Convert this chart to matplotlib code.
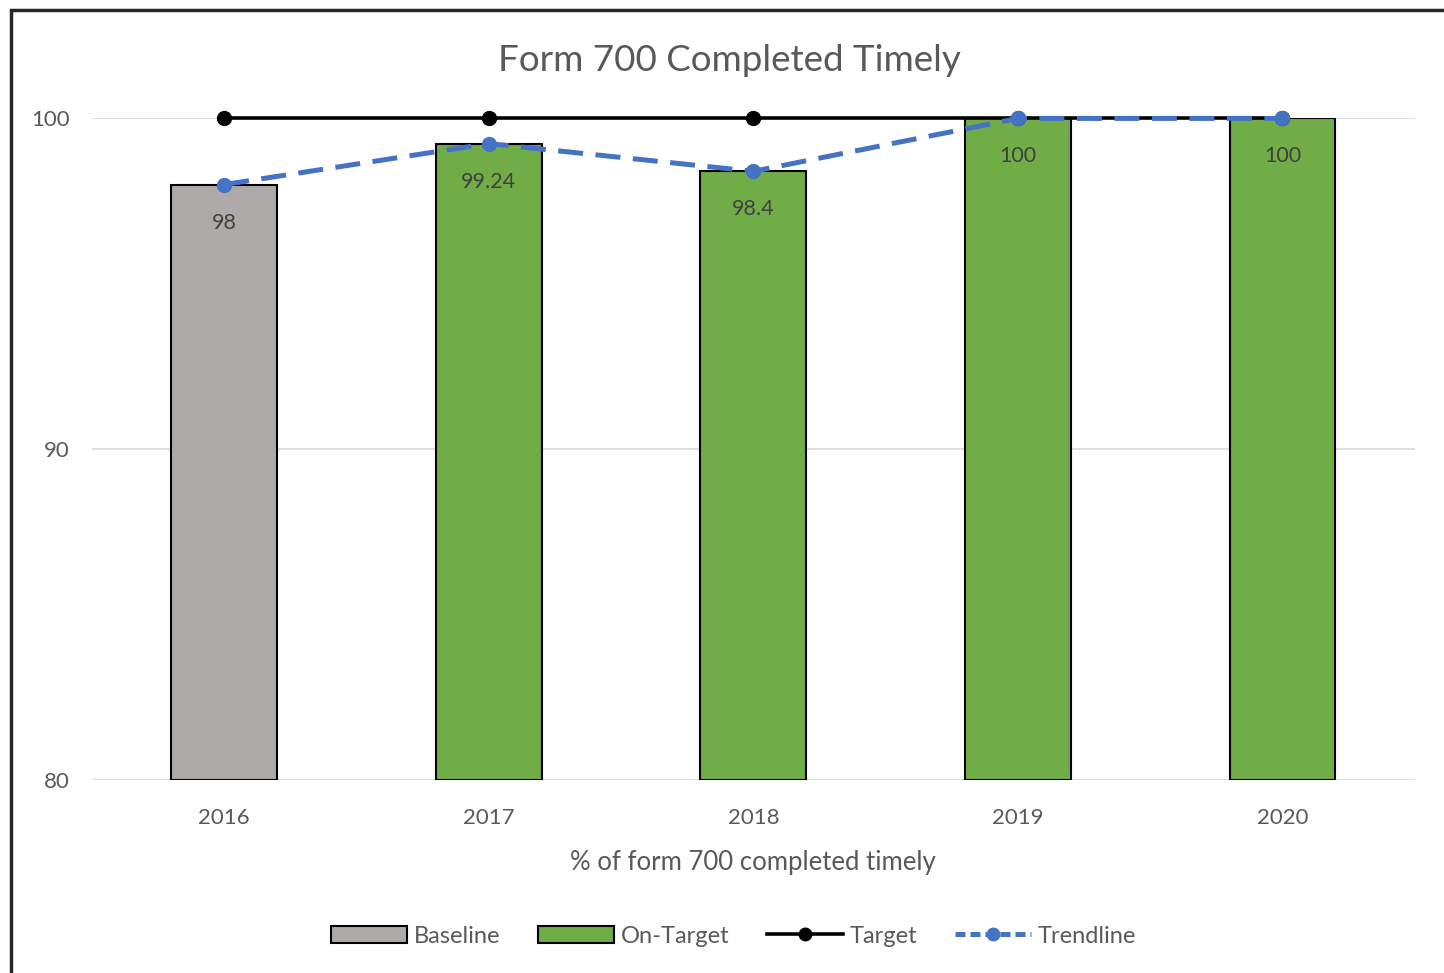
import matplotlib.pyplot as plt
import numpy as np
from matplotlib.patches import Rectangle, Patch
from matplotlib.lines import Line2D

plt.rcParams['font.family'] = ['Lato', 'DejaVu Sans']

# ---- data ----
years = ['2016', '2017', '2018', '2019', '2020']
values = [98, 99.24, 98.4, 100, 100]
status = ['Baseline', 'On-Target', 'On-Target', 'On-Target', 'On-Target']
target = [100, 100, 100, 100, 100]
labels = ['98', '99.24', '98.4', '100', '100']

grey = '#aeaaaa'
green = '#70ad47'
blue = '#4472c4'
text_c = '#595959'

fig = plt.figure(figsize=(14.44, 9.73), dpi=100)
ax = fig.add_axes([0.0637, 0.1983, 0.916, 0.680])

x = np.arange(len(years))
cols = [grey if s == 'Baseline' else green for s in status]
ax.bar(x, [v - 80 for v in values], bottom=80, width=0.40, color=cols,
       edgecolor='black', linewidth=1.5, zorder=2)

ax.plot(x, target, color='black', lw=2.6, marker='o', ms=10, zorder=3,
        clip_on=False)
ax.plot(x, values, color=blue, lw=3.6, ls=(0, (5, 2.5)), marker='o', ms=10,
        zorder=4, clip_on=False)

for xi, v, lab in zip(x, values, labels):
    ax.text(xi, v - 1.15, lab, ha='center', va='center', fontsize=15.5,
            color='#404040', zorder=5)

ax.set_xlim(-0.5, 4.5)
ax.set_ylim(80, 100)
ax.set_yticks([80, 90, 100])
ax.set_xticks(x)
ax.set_xticklabels(years)
ax.tick_params(length=0, labelsize=16, colors=text_c)
ax.tick_params(axis='y', pad=16)
ax.tick_params(axis='x', pad=20)
ax.grid(axis='y', color='#d9d9d9', lw=1.2, zorder=0)
ax.set_axisbelow(True)
for s in ax.spines.values():
    s.set_visible(False)

ax.set_xlabel('% of form 700 completed timely', fontsize=18.5, color=text_c,
              labelpad=16)
fig.text(0.505, 0.938, 'Form 700 Completed Timely', ha='center', va='center',
         fontsize=26.5, color=text_c)

handles = [Patch(facecolor=grey, edgecolor='black', lw=1.5),
           Patch(facecolor=green, edgecolor='black', lw=1.5),
           Line2D([], [], color='black', lw=2.6, marker='o', ms=9),
           Line2D([], [], color=blue, lw=3.6, ls=(0, (2, 1)), marker='o', ms=9)]
fig.legend(handles, ['Baseline', 'On-Target', 'Target', 'Trendline'],
           loc='center', bbox_to_anchor=(0.508, 0.038), ncol=4, frameon=False,
           fontsize=17, labelcolor=text_c, handlelength=3.2, columnspacing=1.6,
           handletextpad=0.3)

# outer chart frame
fig.patches.append(Rectangle((0.0075, -0.1), 1.2, 1.0895, transform=fig.transFigure,
                             fill=False, edgecolor='#262626', lw=2.5))

fig.savefig('out.png', dpi=100)
